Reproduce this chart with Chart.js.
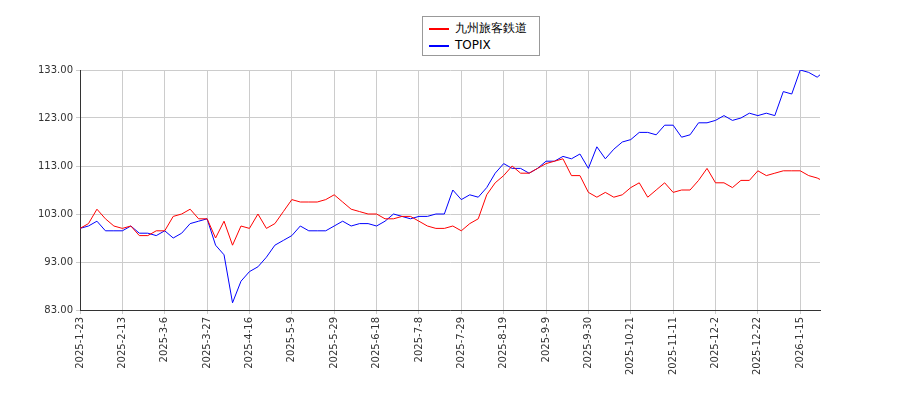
<!DOCTYPE html>
<html><head><meta charset="utf-8">
<script src="https://cdn.jsdelivr.net/npm/chart.js@4"></script>
<style>
body{margin:0;background:#fff;}
#wrap{position:relative;width:900px;height:400px;}
#leg{position:absolute;left:422px;top:16px;width:118px;height:40px;border:1px solid #999;background:#fff;font:12px "DejaVu Sans",sans-serif;box-sizing:border-box;padding:3px 6px;line-height:17px;}
#leg span.l{display:inline-block;width:20px;height:2px;vertical-align:middle;margin-right:6px;}
</style></head><body>
<div id="wrap"><canvas id="c" width="900" height="400"></canvas>
<div id="leg"><div><span class="l" style="background:red"></span>九州旅客鉄道</div><div><span class="l" style="background:blue"></span>TOPIX</div></div></div>
<script>
const tickLabels=["2025-1-23","2025-2-13","2025-3-6","2025-3-27","2025-4-16","2025-5-9","2025-5-29","2025-6-18","2025-7-8","2025-7-29","2025-8-19","2025-9-9","2025-9-30","2025-10-21","2025-11-11","2025-12-2","2025-12-22","2026-1-15"];
const xIndex=[0,3,6,9,12,15,18,21,24,27,30,33,36,39,42,45,48,51,54,57,60,63,66,69,72,75,78,81,84,87,90,93,96,99,102,105,108,111,114,117,120,123,126,129,132,135,138,141,144,147,150,153,156,159,162,165,168,171,174,177,180,183,186,189,192,195,198,201,204,207,210,213,216,219,222,225,228,231,234,237,240,243,246,249,252,255,258,261,262];
const kyushu=[100,101,104,102,100.5,100,100.5,98.5,98.5,99.5,99.5,102.5,103,104,102,102,98,101.5,96.5,100.5,100,103,100,101,103.5,106,105.5,105.5,105.5,106,107,105.5,104,103.5,103,103,102,102,102.5,102.5,101.5,100.5,100,100,100.5,99.5,101,102,107,109.5,111,113,111.5,111.5,112.5,113.5,114,114.5,111,111,107.5,106.5,107.5,106.5,107,108.5,109.5,106.5,108,109.5,107.5,108,108,110,112.5,109.5,109.5,108.5,110,110,112,111,111.5,112,112,112,111,110.5,110.2];
const topix=[100,100.5,101.5,99.5,99.5,99.5,100.5,99,99,98.5,99.5,98,99,101,101.5,102,96.5,94.5,84.5,89,91,92,94,96.5,97.5,98.5,100.5,99.5,99.5,99.5,100.5,101.5,100.5,101,101,100.5,101.5,103,102.5,102,102.5,102.5,103,103,108,106,107,106.5,108.5,111.5,113.5,112.5,112.5,111.5,112.5,114,114,115,114.5,115.5,112.5,117,114.5,116.5,118,118.5,120,120,119.5,121.5,121.5,119,119.5,122,122,122.5,123.5,122.5,123,124,123.5,124,123.5,128.5,128,133,132.5,131.5,132];
const yTicks=[83,93,103,113,123,133];
const pts=a=>a.map((v,i)=>({x:xIndex[i],y:v}));
new Chart(document.getElementById('c'),{
type:'line',
data:{datasets:[
{data:pts(kyushu),borderColor:'red',borderWidth:1,pointRadius:0,tension:0},
{data:pts(topix),borderColor:'blue',borderWidth:1,pointRadius:0,tension:0}]},
options:{responsive:false,animation:false,
layout:{padding:{top:70,right:80,bottom:0,left:0}},
plugins:{legend:{display:false},tooltip:{enabled:false}},
scales:{
x:{type:'linear',min:0,max:262,
 afterBuildTicks:s=>{s.ticks=tickLabels.map((t,i)=>({value:i*15}));},
 afterFit:s=>{s.height=90;},
 ticks:{autoSkip:false,maxRotation:90,minRotation:90,color:'#333',font:{family:'DejaVu Sans',size:10},callback:(v)=>tickLabels[Math.round(v/15)]},
 grid:{color:'#ccc',drawTicks:true,tickLength:4},border:{color:'#333'}},
y:{min:83,max:133,
 afterBuildTicks:s=>{s.ticks=yTicks.map(v=>({value:v}));},
 afterFit:s=>{s.width=80;},
 ticks:{color:'#333',font:{family:'DejaVu Sans',size:10},callback:v=>v.toFixed(2)},
 grid:{color:'#ccc',tickLength:4},border:{color:'#333'}}}}
});
</script></body></html>
